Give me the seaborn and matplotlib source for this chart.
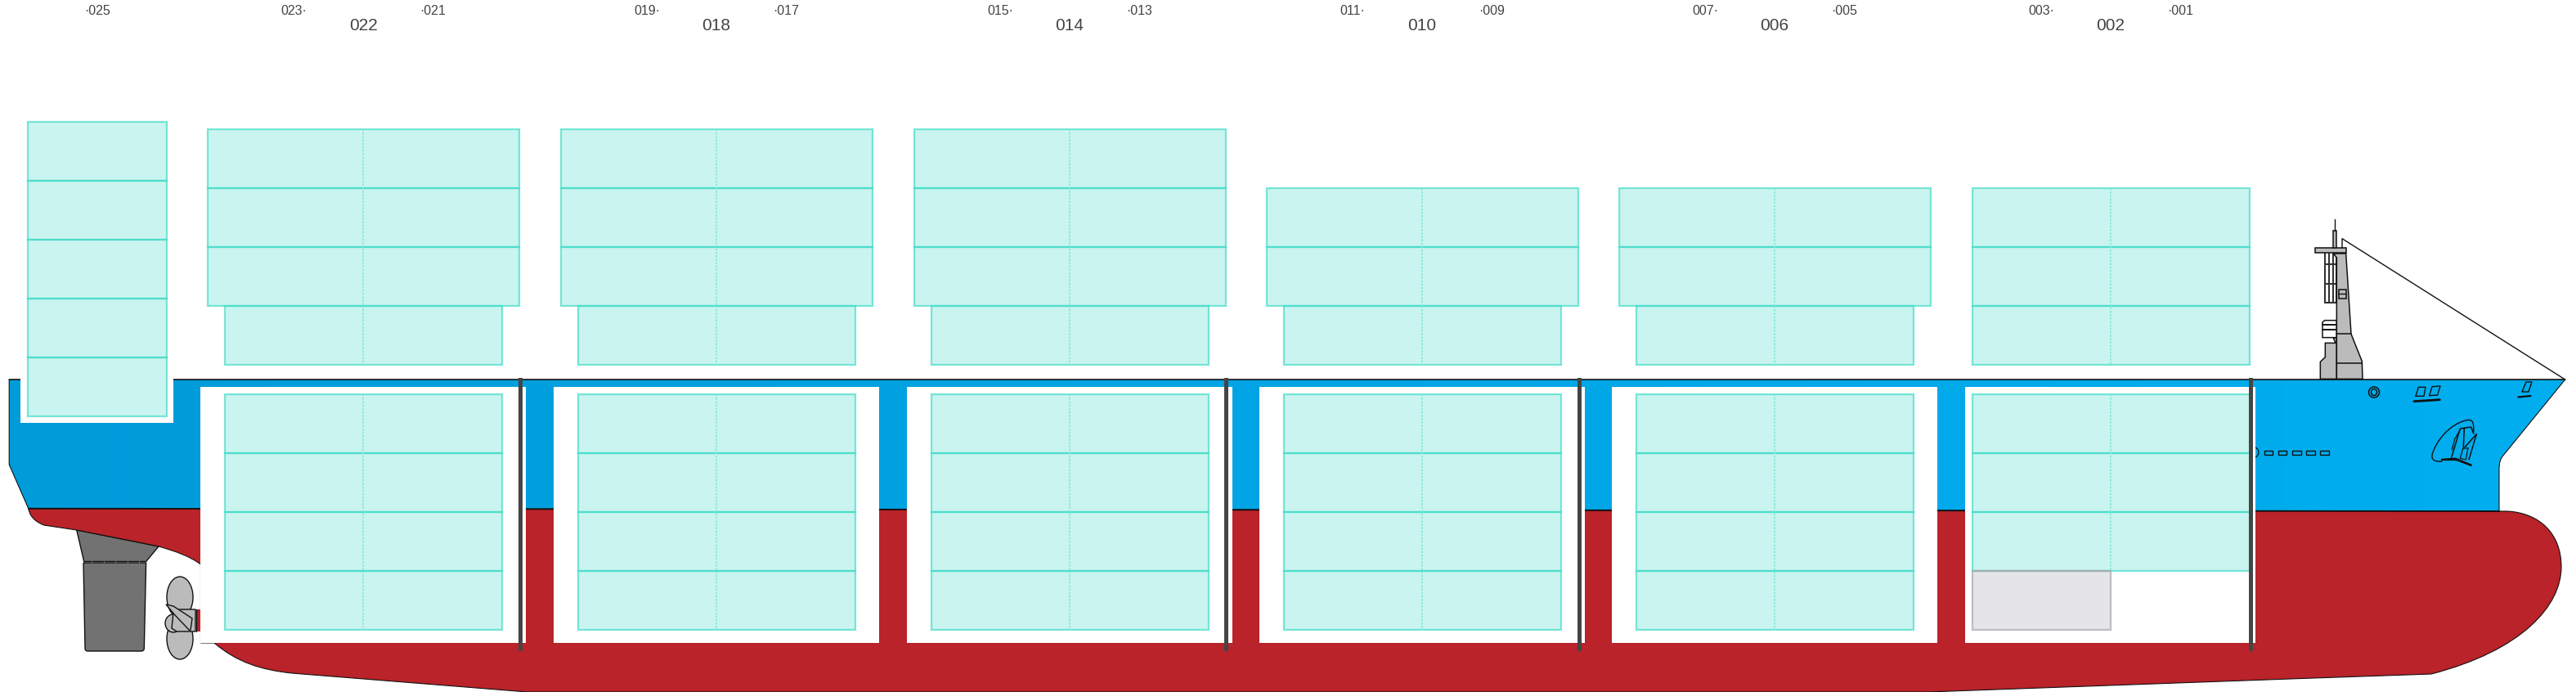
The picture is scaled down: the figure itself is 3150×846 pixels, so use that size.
import numpy as np
import pandas as pd
import matplotlib.pyplot as plt
from matplotlib.patches import Rectangle, Ellipse, PathPatch, Polygon
from matplotlib.path import Path
from matplotlib.colors import LinearSegmentedColormap
import seaborn as sns

# bay plan data
bay_names = ['022', '018', '014', '010', '006', '002']
aft_labels = ['023·', '019·', '015·', '011·', '007·', '003·']
fore_labels = ['·021', '·017', '·013', '·009', '·005', '·001']
wide_tiers = [3, 3, 3, 2, 2, 0]   # on deck, wide stacks
narrow_tiers = [1, 1, 1, 1, 1, 3]  # on deck, narrow stacks
hold_tiers = [4, 4, 4, 4, 4, 3]
stern_label = '·025'
stern_tiers = 5
posts_after_bay = [0, 2, 3, 5]

# layout, in image pixels
bay_x = [444, 876, 1308, 1739, 2170, 2581]
TIER = 72
DECK_BOTTOM = 446
HOLD_TOP = 481.7
DECK = 464

sns.set_style('white')
plt.rcParams['font.family'] = ['Liberation Sans', 'DejaVu Sans']

TEAL = '#3fdcc8'
FILL = '#caf4ef'
RED = '#b92329'
OUT = '#111111'

fig = plt.figure(figsize=(31.5, 8.46), dpi=100)
ax = fig.add_axes([0, 0, 1, 1])
ax.set_xlim(0, 3150)
ax.set_ylim(846, 0)
ax.axis('off')


def curve_path(parts):
    verts, codes = [parts[0]], [Path.MOVETO]
    for p in parts[1:]:
        if len(p) == 3:
            verts += list(p)
            codes += [Path.CURVE4] * 3
        else:
            verts.append(p)
            codes.append(Path.LINETO)
    return Path(verts, codes)


# blue topsides with a slight gradient
blue_path = curve_path([(11.2, DECK), (11.2, 568), (34.8, 621.7), (3056, 625), (3056, 573),
                        ((3056, 565), (3058, 560), (3061.7, 556)), (3136.7, DECK), (11.2, DECK)])
blue_cmap = LinearSegmentedColormap.from_list('topsides', ['#009bd9', '#00a5e5', '#00aeef'])
im = ax.imshow(np.linspace(0, 1, 300).reshape(1, -1), extent=(0, 3150, 846, 0), cmap=blue_cmap,
               aspect='auto', zorder=1)
blue_patch = PathPatch(blue_path, fc='none', ec='#111111', lw=0.8, zorder=1.1)
ax.add_patch(blue_patch)
im.set_clip_path(blue_patch)
ax.plot([11.2, 3136.7], [DECK, DECK], color='#222222', lw=1.1, zorder=1.2)

# red underbody
red_path = curve_path([(34.8, 621.7), ((36, 628), (39, 636), (53.6, 642)), (93.75, 648), (169.6, 663), (194, 668),
                       ((215, 674), (232, 680), (245.5, 690)), (245.5, 786), (262, 786),
                       ((290, 810), (320, 819), (357, 823)), (645, 846), (2357, 846), (2800, 830), (2973, 824),
                       ((3085, 795), (3132, 740), (3132, 693)),
                       ((3132, 652), (3105, 627), (3066, 625)), (3056, 625), (34.8, 621.7)])
ax.add_patch(PathPatch(red_path, fc=RED, ec=OUT, lw=0.8, zorder=2))
ax.plot([34.8, 3056], [621.7, 625], color='#111111', lw=1.3, zorder=2.1)

# rudder
ax.add_patch(Polygon([(93.75, 648), (194, 668), (178.6, 686.5), (102.7, 686.5)], fc='#727272', ec=OUT, lw=1, zorder=1.8))
rudder = curve_path([(102, 688), (178.6, 688), (176.3, 792), ((176.3, 795), (175, 796), (172, 796)), (108, 796),
                     ((105, 796), (104, 795), (104, 792)), (102, 688)])
ax.add_patch(PathPatch(rudder, fc='#727272', ec=OUT, lw=1, zorder=1.8))
for tick in [112, 127, 141, 156, 170]:
    ax.plot([tick, tick], [686.5, 688.5], color='#777777', lw=0.7, zorder=1.9)

# propeller
ax.add_patch(Ellipse((220, 730), 32, 50, fc='#bbbbbb', ec=OUT, lw=1, zorder=3))
ax.add_patch(Ellipse((220, 781), 32, 50, fc='#bbbbbb', ec=OUT, lw=1, zorder=3))
ax.add_patch(Ellipse((212, 762), 20, 22, fc='#bbbbbb', ec=OUT, lw=1, zorder=3.05))
ax.add_patch(Polygon([(220, 745), (239, 745), (239, 772), (216, 772), (210, 768), (212, 748)], fc='#bbbbbb', ec=OUT, lw=1, zorder=3.1))
ax.add_patch(Polygon([(203, 739), (212, 741), (235, 756), (233, 770), (232, 771), (214, 752)], fc='#bbbbbb', ec=OUT, lw=1, zorder=3.2))
ax.add_patch(Rectangle((239.5, 745.5), 6, 27, fc=RED, ec='none', zorder=3))
ax.plot([239.5, 239.5], [745.5, 772.5], color=OUT, lw=1, zorder=3.3)

# hold openings
for i, cx in enumerate(bay_x[:5]):
    ax.add_patch(Rectangle((cx - 199, 472.7), 398, 786 - 472.7, fc='white', ec='none', zorder=3.5))
ax.add_patch(Rectangle((2403, 472.7), 355, 786 - 472.7, fc='white', ec='none', zorder=3.5))
# stern bay cut out of the deck
ax.add_patch(Rectangle((25.4, 455), 186.2, 516.7 - 455, fc='white', ec='none', zorder=3.5))

segments = []


def stack(left, right, top, tiers, center=True):
    # one block of cells, dividers go through seaborn further down
    for t in range(tiers):
        y = top + t * TIER
        ax.add_patch(Rectangle((left, y), right - left, TIER, fc=FILL, ec='none', zorder=4))
        ax.add_patch(Rectangle((left, y), right - left, TIER, fc='none', ec=TEAL, alpha=0.68, lw=1.6, zorder=4.2))
    if center:
        cx = (left + right) / 2
        segments.append((cx, top, top + tiers * TIER))


# containers on deck and in the holds
for i, cx in enumerate(bay_x):
    if narrow_tiers[i] == 1:
        top = DECK_BOTTOM - TIER
        stack(cx - 169.5, cx + 169.5, top, 1)
        stack(cx - 190.5, cx + 190.5, top - wide_tiers[i] * TIER, wide_tiers[i])
    else:
        stack(cx - 169.5, cx + 169.5, DECK_BOTTOM - narrow_tiers[i] * TIER, narrow_tiers[i])
    stack(cx - 169.5, cx + 169.5, HOLD_TOP, hold_tiers[i])

# stern stack
stack(33.5, 203.6, 149, stern_tiers, center=False)

# the greyed out slot in the lowest bay
gx = bay_x[5]
ax.add_patch(Rectangle((gx - 169.5, HOLD_TOP + 3 * TIER), 169.5, TIER, fc='#e5e5e7', ec='#bdbdc3', lw=1.6, zorder=4.3))
ax.plot([gx - 169.5, gx], [HOLD_TOP + 3 * TIER] * 2, color='#9bb0b2', lw=1.6, zorder=4.4)

# dashed centre lines
center_df = pd.DataFrame([{'seg': n, 'x': s[0], 'y': y} for n, s in enumerate(segments) for y in s[1:]])
sns.lineplot(data=center_df, x='x', y='y', units='seg', estimator=None, color='#7fe8d9', lw=1.2, ls=(0, (1.5, 1)),
             sort=False, legend=False, ax=ax, zorder=4.5)

# lashing posts
for i in posts_after_bay:
    post_x = {0: 636.5, 2: 1499, 3: 1931, 5: 2752}[i]
    ax.add_patch(Rectangle((post_x - 2.5, 462), 5, 795.7 - 462, fc='#454545', ec='none', zorder=5))


def fx(v):
    return 2820 + np.asarray(v) / 3


def fy(v):
    return 260 + np.asarray(v) / 3


def fpoly(xs, ys, **kw):
    ax.add_patch(Polygon(np.column_stack([fx(xs), fy(ys)]), **kw))


kw = dict(fc='#bbbbbb', ec=OUT, lw=1.1, zorder=2.5)
fpoly([52, 52, 70, 70, 108, 100, 112, 112], [610, 547, 530, 478, 478, 460, 458, 610], **kw)
fpoly([112, 112, 100, 146, 165, 205, 207], [610, 165, 150, 150, 445, 545, 610], **kw)
fpoly([60, 60, 68, 112, 112], [458, 402, 395, 395, 458], fc='white', ec=OUT, lw=1.1, zorder=2.4)
fpoly([33, 148, 148, 33], [130, 130, 148, 148], **kw)
fpoly([100, 112, 112, 100], [65, 65, 130, 130], **kw)
fpoly([120, 146, 146, 120], [282, 282, 316, 316], **kw)
ladder_x = [[68, 68], [85, 85], [100, 100], [110, 110]]
for lx in ladder_x:
    ax.plot(fx(lx), fy([150, 330]), color='#333333', lw=1.5, zorder=2.3)
for ly in [190, 260, 330]:
    ax.plot(fx([68, 110]), fy([ly, ly]), color='#333333', lw=1.5, zorder=2.3)
for ly, x1 in [(445, 165), (553, 205)]:
    ax.plot(fx([112, x1]), fy([ly, ly]), color=OUT, lw=1.1, zorder=2.6)
for ly in [410, 430]:
    ax.plot(fx([60, 112]), fy([ly, ly]), color=OUT, lw=1.4, zorder=2.6)
ax.plot(fx([120, 146]), fy([298, 298]), color=OUT, lw=1, zorder=2.6)

# forestay and mast top through seaborn, as plain line data
stay_df = pd.DataFrame({'x': fx([106, 106, 132, 132, 950]), 'y': [268.3, 282, 303.3, 291.7, DECK],
                        'part': ['antenna', 'antenna', 'stay', 'stay', 'stay']})
sns.lineplot(data=stay_df, x='x', y='y', units='part', estimator=None, color=OUT, lw=1, sort=False, legend=False,
             ax=ax, zorder=2.7)


# bow fittings, crop at 3x from x=2950 y=450
def bx(v):
    return 2950 + np.asarray(v) / 3


def by(v):
    return 450 + np.asarray(v) / 3


def bline(xs, ys, lw=1.0):
    ax.plot(bx(xs), by(ys), color=OUT, lw=lw, zorder=2.6, solid_capstyle='round')


bline([12, 22, 48, 42, 12], [103, 70, 70, 103, 103])
bline([62, 72, 102, 92, 62], [101, 68, 66, 99, 101])
bline([6, 100], [122, 116], lw=2)
loop = curve_path([(110, 342), ((80, 345), (70, 335), (72, 320)), ((80, 280), (130, 205), (200, 191)),
                   ((222, 187), (226, 200), (224, 240))])
ax.add_patch(PathPatch(Path(np.column_stack([bx(loop.vertices[:, 0]), by(loop.vertices[:, 1])]), loop.codes),
                       fc='none', ec=OUT, lw=1.0, zorder=2.6))
bline([108, 158, 215, 160, 108], [336, 332, 356, 336, 336], lw=1.6)
bline([142, 175, 190, 187], [332, 222, 220, 292], lw=1.1)
bline([192, 235, 207], [290, 242, 336], lw=1.1)
bline([175, 185, 204, 196, 178], [332, 295, 293, 336, 332], lw=0.9)
bline([145, 155, 175], [300, 260, 228], lw=0.9)
bline([190, 215, 224], [220, 216, 240], lw=1.1)

# ring and hawse marks on the flare
ax.add_patch(Ellipse((2903, 479.5), 13, 13, fc='none', ec=OUT, lw=1.1, zorder=2.6))
ax.add_patch(Ellipse((2903, 479.5), 7, 8, fc='none', ec=OUT, lw=1.1, zorder=2.6))
ax.add_patch(Polygon([(3084, 479), (3089, 467), (3096, 467), (3092, 479)], fc='none', ec=OUT, lw=1, zorder=2.6))
ax.plot([3079.5, 3094.5], [485.5, 484], color=OUT, lw=1.6, zorder=2.6)

# scupper row
for sx in [2768.5, 2785.5, 2803, 2820, 2837]:
    ax.add_patch(Rectangle((sx, 551), 10.5, 5, fc='none', ec=OUT, lw=1, zorder=2.6))
ax.add_patch(Ellipse((2755, 553), 14, 13, fc='none', ec=OUT, lw=0.9, zorder=2.55))

# bay labels
TXT = '#444444'
ax.text(118.6, 13.5, stern_label, ha='center', va='center', fontsize=11.5, color=TXT)
for cx, name, aft, fore in zip(bay_x, bay_names, aft_labels, fore_labels):
    ax.text(cx, 31.5, name, ha='center', va='center', fontsize=15, color=TXT)
    ax.text(cx - 85, 13.5, aft, ha='center', va='center', fontsize=11.5, color=TXT)
    ax.text(cx + 85, 13.5, fore, ha='center', va='center', fontsize=11.5, color=TXT)

ax.set_xlim(0, 3150)
ax.set_ylim(846, 0)
fig.savefig('out.png', dpi=100)
